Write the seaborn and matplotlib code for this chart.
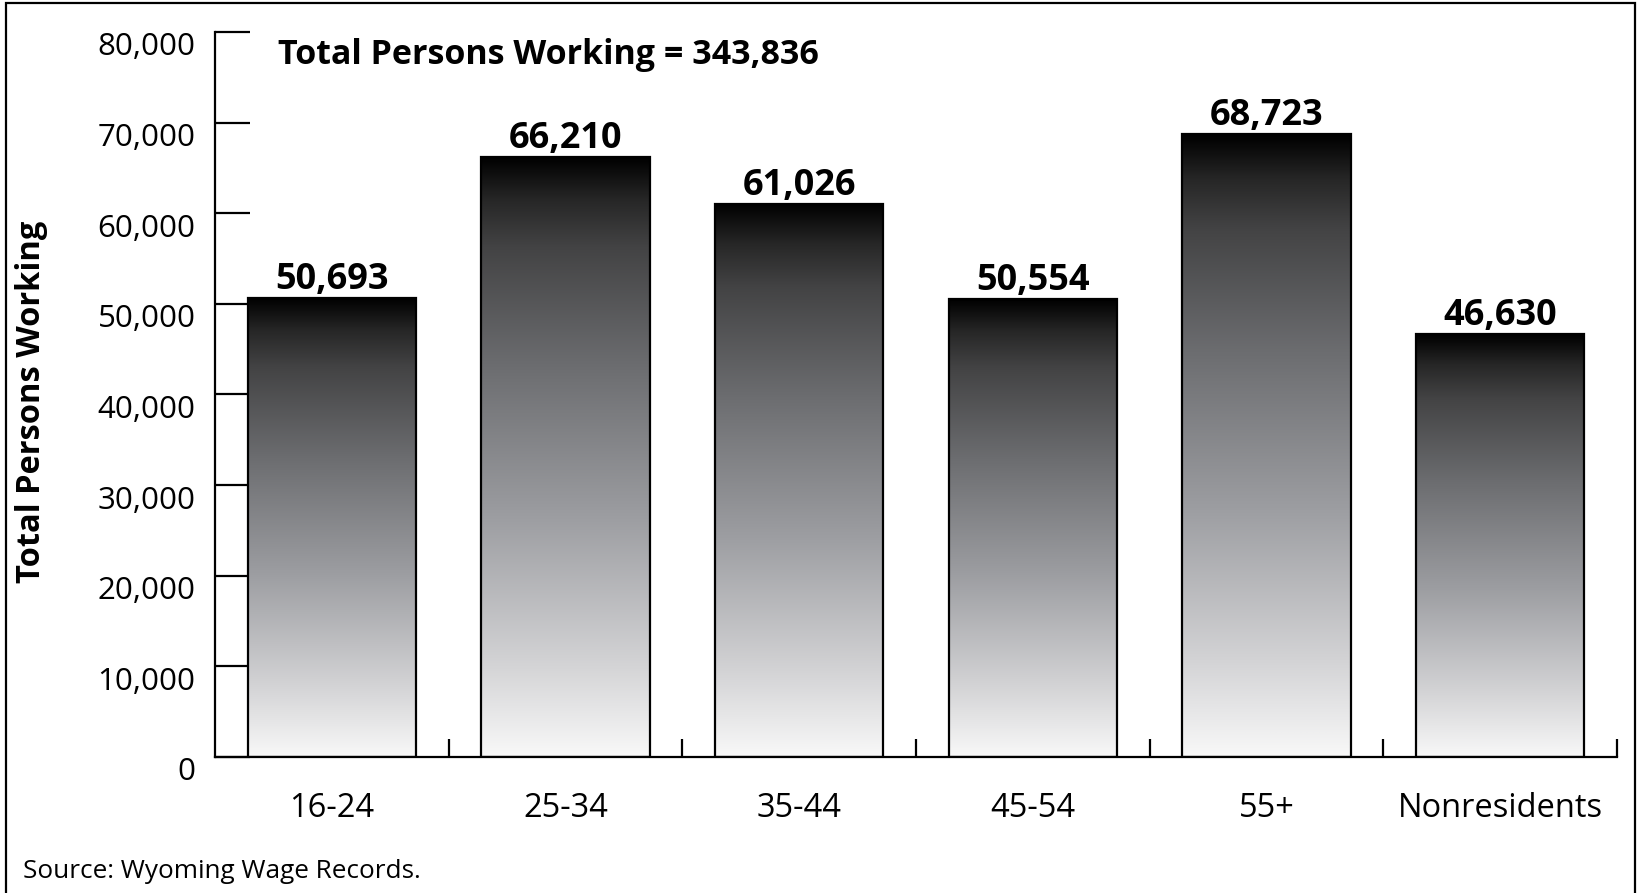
import numpy as np
import pandas as pd
import matplotlib
matplotlib.use("Agg")
import matplotlib.pyplot as plt
import matplotlib.patches as mpatches
import matplotlib.transforms as mtransforms
from matplotlib.colors import LinearSegmentedColormap
from matplotlib.ticker import FuncFormatter, FixedLocator
import seaborn as sns

# Data
age_groups = ["16-24", "25-34", "35-44", "45-54", "55+", "Nonresidents"]
persons_working = [50693, 66210, 61026, 50554, 68723, 46630]
total_persons = 343836
y_ticks = [0, 10000, 20000, 30000, 40000, 50000, 60000, 70000, 80000]

sns.set_theme(style="white")
plt.rcParams["font.family"] = ["Open Sans", "DejaVu Sans"]

W, H = 1643, 893
fig = plt.figure(figsize=(W / 100, H / 100), dpi=100)
ax = fig.add_axes([215 / W, 1 - 757 / H, (1617 - 215) / W, (757 - 32) / H])

df = pd.DataFrame({"group": age_groups, "persons": persons_working})
sns.barplot(data=df, x="group", y="persons", ax=ax, width=0.72,
            facecolor="none", edgecolor="black", linewidth=1.6, zorder=3)

# Vertical black-to-white gradient inside every bar
grad_cmap = LinearSegmentedColormap.from_list(
    "bar_grad",
    [(0.0, "#000000"), (0.07, "#262626"), (0.15, "#434344"),
     (0.35, "#6c6d70"), (0.6, "#9c9da1"), (0.85, "#d4d4d6"), (1.0, "#f8f8f8")])
grad = np.linspace(0, 1, 256).reshape(-1, 1)
for patch in ax.patches:
    x0, y0 = patch.get_x(), patch.get_y()
    w, h = patch.get_width(), patch.get_height()
    im = ax.imshow(grad, cmap=grad_cmap, aspect="auto",
                   extent=(x0, x0 + w, y0, y0 + h), origin="upper",
                   zorder=2, interpolation="bilinear")
    im.set_clip_path(patch)
    ax.annotate(f"{int(round(h)):,}", xy=(x0 + w / 2, y0 + h),
                xytext=(0, 0), textcoords="offset points",
                ha="center", va="bottom", fontsize=26, fontweight="bold",
                color="black", zorder=4)

ax.set_xlim(-0.5, len(age_groups) - 0.5)
ax.set_ylim(0, 80000)
ax.set_aspect("auto")

# Axes styling
for side in ["top", "right"]:
    ax.spines[side].set_visible(False)
for side in ["left", "bottom"]:
    ax.spines[side].set_color("black")
    ax.spines[side].set_linewidth(1.6)

ax.yaxis.set_major_locator(FixedLocator(y_ticks))
ax.yaxis.set_major_formatter(FuncFormatter(lambda v, p: f"{int(v):,}"))
ax.tick_params(axis="y", direction="in", length=25, width=1.6, color="black",
               labelsize=22.5, pad=14, left=True, labelcolor="black")
# y tick labels sit slightly below their tick marks
label_shift = mtransforms.ScaledTranslation(0, -0.12, fig.dpi_scale_trans)
for lbl in ax.get_yticklabels():
    lbl.set_transform(lbl.get_transform() + label_shift)

ax.set_xticks(range(len(age_groups)))
ax.set_xticklabels(age_groups)
ax.tick_params(axis="x", which="major", length=0, labelsize=23.5, pad=25,
               labelcolor="black")
ax.set_xticks(np.arange(0.5, len(age_groups), 1.0), minor=True)
ax.tick_params(axis="x", which="minor", direction="in", length=13, width=1.6,
               color="black", bottom=True)
ax.grid(False)

ax.set_xlabel("")
ax.set_ylabel("Total Persons Working", fontsize=23.5, fontweight="bold",
              color="black")
ax.yaxis.set_label_coords(-0.119, 0.49)

fig.text(278 / W, 1 - 55 / H, f"Total Persons Working = {total_persons:,}",
         ha="left", va="center", fontsize=24.5, fontweight="bold", color="black")
fig.text(23 / W, 1 - 871 / H, "Source: Wyoming Wage Records.",
         ha="left", va="center", fontsize=18.8, color="black")

# Outer frame
fig.patches.append(mpatches.Rectangle(
    (6 / W, -0.02), (1635 - 6) / W, 1.02 - 3 / H,
    transform=fig.transFigure, fill=False, edgecolor="black", linewidth=1.6))

fig.savefig("out.png", dpi=100, facecolor="white")
